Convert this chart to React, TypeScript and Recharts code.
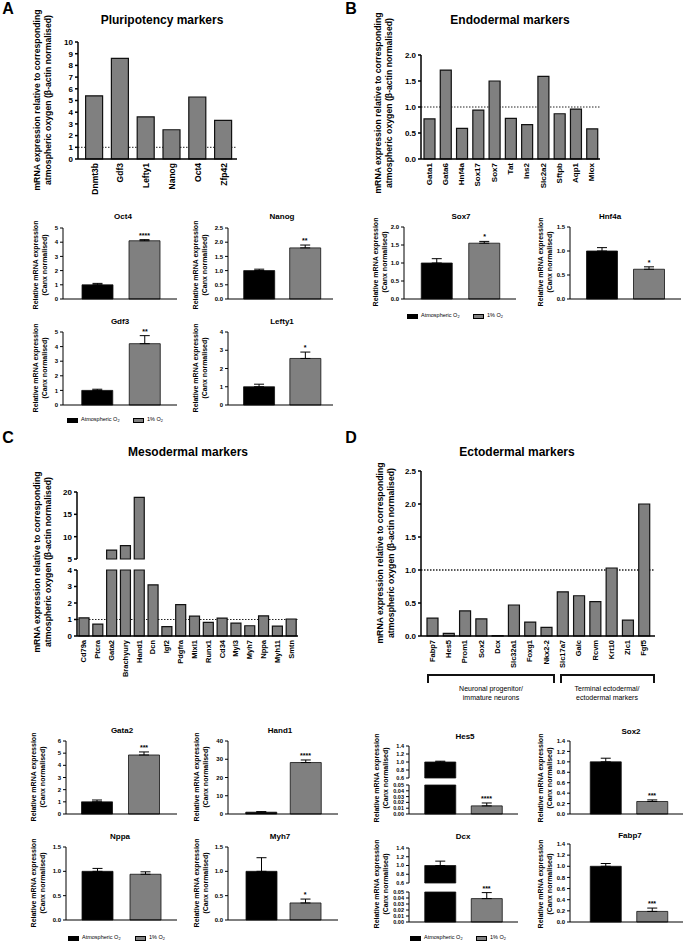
import React from 'react';
import { ComposedChart, Bar, Line, XAxis, YAxis, ErrorBar, ReferenceLine, LabelList, Cell } from 'recharts';

const FONT = '"Liberation Sans", Arial, Helvetica, sans-serif';
const GREY = '#808080';

// fold change vs atmospheric oxygen (beta-actin normalised)
const pluriGenes = ['Dnmt3b', 'Gdf3', 'Lefty1', 'Nanog', 'Oct4', 'Zfp42'];
const pluriValues = [5.4, 8.6, 3.6, 2.5, 5.3, 3.3];

const endoGenes = ['Gata1', 'Gata6', 'Hnf4a', 'Sox17', 'Sox7', 'Tat', 'Ins2', 'Slc2a2', 'Sftpb', 'Aqp1', 'Mlox'];
const endoValues = [0.77, 1.71, 0.59, 0.94, 1.5, 0.78, 0.66, 1.59, 0.87, 0.96, 0.58];

const mesoGenes = ['Cd79a', 'Ptcra', 'Gata2', 'Brachyury', 'Hand1', 'Dcn', 'Igf2', 'Pdgfra', 'Mixl1', 'Runx1', 'Cd34', 'Myl3', 'Myh7', 'Nppa', 'Myh11', 'Smtn'];
const mesoValues = [1.1, 0.72, 7.0, 8.0, 18.8, 3.1, 0.57, 1.9, 1.2, 0.82, 1.08, 0.78, 0.62, 1.22, 0.6, 1.03];

const ectoGenes = ['Fabp7', 'Hes5', 'Prom1', 'Sox2', 'Dcx', 'Slc32a1', 'Foxg1', 'Nkx2-2', 'Slc17a7', 'Galc', 'Rcvm', 'Krt10', 'Zic1', 'Fgf5'];
const ectoValues = [0.27, 0.04, 0.38, 0.26, 0.005, 0.47, 0.21, 0.13, 0.67, 0.61, 0.52, 1.03, 0.24, 2.0];

// qPCR validation (Canx normalised): [atmospheric, 1% O2]
const conditions = ['Atmospheric O2', '1% O2'];
const oct4 = { mean: [1.0, 4.1], sem: [0.1, 0.08], sig: '****' };
const nanog = { mean: [1.0, 1.8], sem: [0.05, 0.1], sig: '**' };
const gdf3 = { mean: [1.0, 4.2], sem: [0.08, 0.55], sig: '**' };
const lefty1 = { mean: [1.0, 2.55], sem: [0.14, 0.35], sig: '*' };
const sox7 = { mean: [1.0, 1.55], sem: [0.12, 0.05], sig: '*' };
const hnf4a = { mean: [1.0, 0.62], sem: [0.07, 0.05], sig: '*' };
const gata2 = { mean: [1.0, 4.85], sem: [0.15, 0.25], sig: '***' };
const hand1 = { mean: [1.0, 28.2], sem: [0.3, 1.4], sig: '****' };
const nppa = { mean: [1.0, 0.94], sem: [0.06, 0.05], sig: '' };
const myh7 = { mean: [1.0, 0.35], sem: [0.28, 0.08], sig: '*' };
const hes5 = { mean: [1.0, 0.014], sem: [0.02, 0.005], sig: '****' };
const sox2 = { mean: [1.0, 0.24], sem: [0.07, 0.03], sig: '***' };
const dcx = { mean: [1.0, 0.039], sem: [0.1, 0.01], sig: '***' };
const fabp7 = { mean: [1.0, 0.19], sem: [0.05, 0.06], sig: '***' };

type Pair = { mean: number[]; sem: number[]; sig: string };

const foldRows = (genes: string[], values: number[], lo = -Infinity, hi = Infinity) =>
  genes.map((name, i) => ({ name, v: values[i] > lo ? Math.min(values[i], hi) : null, fill: GREY }));

const pairRows = (g: Pair, lo = -Infinity, hi = Infinity) =>
  conditions.map((name, i) => {
    const m = g.mean[i];
    const whole = m >= lo && m <= hi;
    return {
      name,
      v: m >= lo ? Math.min(m, hi) : null,
      err: whole ? [0, g.sem[i]] : null,
      top: whole ? m + g.sem[i] : null,
      sig: whole && i === 1 && g.sig ? g.sig : null,
      fill: i === 0 ? '#000' : GREY,
    };
  });

const steps = (a: number, b: number, s: number) => {
  const out: number[] = [];
  for (let v = a; v <= b + s / 1000; v += s) out.push(Math.round(v * 1000) / 1000);
  return out;
};

const YW = 36, TM = 16, RM = 4, BM = 6;

function RotTick(props: any) {
  const { x, y, payload, fs } = props;
  return (
    <text transform={`translate(${x},${y}) rotate(-90)`} textAnchor="end" dominantBaseline="central"
      fontSize={fs} fontWeight={700} fontFamily={FONT} fill="#000">
      {payload.value}
    </text>
  );
}

function Plot(p: any) {
  const xh = p.hideX ? 0 : p.xHeight ?? 1;
  const width = p.right - p.axisX + YW + RM;
  const height = p.bottom - p.top + TM + xh + BM;
  const axisStyle = { stroke: '#000', strokeWidth: p.lw };

  // drawn twice: the dotted reference line sits in a layer under the bars
  const chart = (main: boolean) => (
    <ComposedChart width={width} height={height} data={p.data} margin={{ top: TM, right: RM, bottom: BM, left: 0 }}>
      <XAxis dataKey="name" hide={p.hideX} height={xh} interval={0} padding={p.padding}
        axisLine={main ? axisStyle : false} tickLine={false} tickSize={2}
        tick={main && p.rotate ? <RotTick fs={p.rotate} /> : false} />
      <YAxis width={YW} type="number" domain={p.domain} ticks={p.ticks} interval={0}
        tickFormatter={(v: number) => Number(v).toFixed(p.digits)}
        axisLine={main ? axisStyle : false} tickLine={main ? axisStyle : false} tickSize={3} tickMargin={2}
        tick={main ? { fontSize: p.yFont, fontWeight: 700, fill: '#000', fontFamily: FONT } : false} />
      {!main && p.dotted !== undefined && (
        <ReferenceLine y={p.dotted} stroke="#222" strokeWidth={p.dotW ?? 1} strokeDasharray="1.5 1.5" />
      )}
      <Bar dataKey="v" barSize={p.barSize} stroke={main ? '#111' : 'none'} strokeWidth={p.bw}
        fillOpacity={main ? 1 : 0} isAnimationActive={false}>
        {p.data.map((d: any, i: number) => <Cell key={i} fill={d.fill} />)}
        {main && p.errors && (
          <ErrorBar dataKey="err" direction="y" width={5} stroke="#000" strokeWidth={1} isAnimationActive={false} />
        )}
      </Bar>
      {main && p.stars && (
        <Line dataKey="top" stroke="none" dot={false} activeDot={false} isAnimationActive={false}>
          <LabelList dataKey="sig" position="top" offset={2}
            style={{ fontSize: 7, fontWeight: 700, fill: '#000', fontFamily: FONT }} />
        </Line>
      )}
    </ComposedChart>
  );

  return (
    <>
      {p.dotted !== undefined && (
        <div style={{ position: 'absolute', left: p.axisX - YW, top: p.top - TM }}>{chart(false)}</div>
      )}
      <div style={{ position: 'absolute', left: p.axisX - YW, top: p.top - TM }}>{chart(true)}</div>
    </>
  );
}

const pad = (axisX: number, right: number, c0: number, c1: number) => {
  const band = c1 - c0;
  return { left: Math.max(0, c0 - band / 2 - axisX), right: Math.max(0, right - c1 - band / 2) };
};

function Txt({ x, y, size, bold = true, children }: any) {
  return (
    <div style={{ position: 'absolute', left: x, top: y, transform: 'translate(-50%,-50%)', fontSize: size,
      fontWeight: bold ? 700 : 400, whiteSpace: 'nowrap', lineHeight: 1 }}>{children}</div>
  );
}

function VTxt({ x, y, size, children }: any) {
  return (
    <div style={{ position: 'absolute', left: x, top: y, transform: 'translate(-50%,-50%) rotate(-90deg)',
      fontSize: size, fontWeight: 700, whiteSpace: 'nowrap', lineHeight: 1 }}>{children}</div>
  );
}

const BigYLabel = ({ x, cy }: any) => (
  <>
    <VTxt x={x} y={cy} size={8.7}>mRNA expression relative to corresponding</VTxt>
    <VTxt x={x + 11} y={cy} size={8.7}>atmospheric oxygen (β-actin normalised)</VTxt>
  </>
);

const SmallYLabel = ({ x, cy }: any) => (
  <>
    <VTxt x={x} y={cy} size={7}>Relative mRNA expression</VTxt>
    <VTxt x={x + 9} y={cy} size={7}>(Canx normalised)</VTxt>
  </>
);

const small = { lw: 1, bw: 0.8, yFont: 6, barSize: 31, errors: true, stars: true };

function PairChart({ g, axisX, right, top, bottom, domain, step, digits, c0, c1, title, tx, ty, lx, ly }: any) {
  return (
    <>
      <Txt x={tx} y={ty} size={8}>{title}</Txt>
      <SmallYLabel x={lx} cy={ly} />
      <Plot {...small} data={pairRows(g)} axisX={axisX} right={right} top={top} bottom={bottom}
        domain={domain} ticks={steps(domain[0], domain[1], step)} digits={digits} padding={pad(axisX, right, c0, c1)} />
    </>
  );
}

function BrokenPair({ g, axisX, right, upTop, upBottom, lowTop, bottom, c0, c1, title, tx, ty, lx, ly }: any) {
  const padding = pad(axisX, right, c0, c1);
  return (
    <>
      <Txt x={tx} y={ty} size={8}>{title}</Txt>
      <SmallYLabel x={lx} cy={ly} />
      <Plot {...small} yFont={5.5} data={pairRows(g, 0.6)} axisX={axisX} right={right} top={upTop} bottom={upBottom}
        hideX domain={[0.6, 1.4]} ticks={steps(0.6, 1.4, 0.2)} digits={1} padding={padding} />
      <Plot {...small} yFont={5.5} data={pairRows(g, -Infinity, 0.05)} axisX={axisX} right={right} top={lowTop} bottom={bottom}
        domain={[0, 0.05]} ticks={steps(0, 0.05, 0.01)} digits={2} padding={padding} />
    </>
  );
}

function O2Legend({ x, y, gx }: any) {
  const sq = (left: number, fill: string) => (
    <div style={{ position: 'absolute', left, top: y - 2.5, width: 11, height: 5, background: fill,
      border: '0.8px solid #000', boxSizing: 'border-box' }} />
  );
  const sub = <span style={{ fontSize: '0.7em', position: 'relative', top: '0.3em' }}>2</span>;
  const lbl = (left: number, text: string) => (
    <div style={{ position: 'absolute', left, top: y, transform: 'translateY(-50%)', fontSize: 5.5,
      lineHeight: 1, whiteSpace: 'nowrap' }}>{text}O{sub}</div>
  );
  return (
    <>
      {sq(x, '#000')}
      {lbl(x + 14, 'Atmospheric ')}
      {sq(gx, GREY)}
      {lbl(gx + 14, '1% ')}
    </>
  );
}

const Bracket = ({ x, w, y }: any) => (
  <div style={{ position: 'absolute', left: x, top: y, width: w, height: 9, borderTop: '2px solid #111',
    borderLeft: '2px solid #111', borderRight: '2px solid #111', boxSizing: 'border-box' }} />
);

const big = { lw: 1.5, bw: 1.2, yFont: 8 };

export default function App() {
  return (
    <div style={{ position: 'absolute', left: 0, top: 0, width: 686, height: 944, background: '#fff',
      fontFamily: FONT, color: '#000', overflow: 'hidden' }}>
      {/* A */}
      <Txt x={8} y={9} size={16}>A</Txt>
      <Txt x={162} y={20} size={12}>Pluripotency markers</Txt>
      <BigYLabel x={37} cy={100} />
      <Plot {...big} data={foldRows(pluriGenes, pluriValues)} axisX={78} top={42} bottom={159} right={237}
        domain={[0, 10]} ticks={steps(0, 10, 1)} digits={0} padding={{ left: 3.6, right: 0.6 }}
        barSize={17} xHeight={40} rotate={8.5} dotted={1} />

      <PairChart g={oct4} title="Oct4" tx={123} ty={217} lx={35} ly={265} axisX={63} right={177} top={228} bottom={299}
        domain={[0, 5]} step={1} digits={0} c0={97.5} c1={144.5} />
      <PairChart g={nanog} title="Nanog" tx={282} ty={217} lx={195} ly={265} axisX={228} right={333} top={228} bottom={299}
        domain={[0, 2.5]} step={0.5} digits={1} c0={258.7} c1={304.7} />
      <PairChart g={gdf3} title="Gdf3" tx={120} ty={322} lx={35} ly={368} axisX={63} right={177} top={332} bottom={405}
        domain={[0, 5]} step={1} digits={0} c0={97.5} c1={145} />
      <PairChart g={lefty1} title="Lefty1" tx={282} ty={322} lx={195} ly={368} axisX={228} right={333} top={332} bottom={405}
        domain={[0, 4]} step={1} digits={0} c0={258.7} c1={305} />
      <O2Legend x={67} y={420} gx={133} />

      {/* B */}
      <Txt x={351} y={9} size={16}>B</Txt>
      <Txt x={510} y={20} size={12}>Endodermal markers</Txt>
      <BigYLabel x={378} cy={103} />
      <Plot {...big} data={foldRows(endoGenes, endoValues)} axisX={421} top={55} bottom={159} right={600}
        domain={[0, 2]} ticks={steps(0, 2, 0.5)} digits={1} padding={{ left: 0, right: 0 }}
        barSize={11} xHeight={40} rotate={8} dotted={1} />

      <PairChart g={sox7} title="Sox7" tx={461} ty={217} lx={375} ly={262} axisX={404} right={516} top={227} bottom={299}
        domain={[0, 2]} step={0.5} digits={1} c0={437} c1={484.5} />
      <PairChart g={hnf4a} title="Hnf4a" tx={610} ty={217} lx={540} ly={262} axisX={570} right={681} top={227} bottom={299}
        domain={[0, 1.5]} step={0.5} digits={1} c0={602} c1={649} />
      <O2Legend x={407} y={316} gx={473} />

      {/* C */}
      <Txt x={8} y={438} size={16}>C</Txt>
      <Txt x={188} y={452} size={12}>Mesodermal markers</Txt>
      <BigYLabel x={37} cy={562} />
      <Plot {...big} data={foldRows(mesoGenes, mesoValues, 5)} axisX={77} top={492} bottom={559} right={298}
        hideX domain={[5, 20]} ticks={steps(5, 20, 5)} digits={0} padding={{ left: 0, right: 0 }} barSize={10} />
      <Plot {...big} data={foldRows(mesoGenes, mesoValues, -Infinity, 4)} axisX={77} top={570} bottom={636} right={298}
        domain={[0, 4]} ticks={steps(0, 4, 1)} digits={0} padding={{ left: 0, right: 0 }}
        barSize={10} xHeight={50} rotate={7.5} dotted={1} />

      <PairChart g={gata2} title="Gata2" tx={122} ty={731} lx={33} ly={777} axisX={66} right={177} top={741} bottom={814}
        domain={[0, 6]} step={1} digits={0} c0={97} c1={144} />
      <PairChart g={hand1} title="Hand1" tx={280} ty={731} lx={196} ly={777} axisX={228} right={338} top={741} bottom={814}
        domain={[0, 40]} step={10} digits={0} c0={261} c1={305.5} />
      <PairChart g={nppa} title="Nppa" tx={120} ty={837} lx={33} ly={883} axisX={66} right={177} top={847} bottom={920}
        domain={[0, 1.5]} step={0.5} digits={1} c0={97} c1={145} />
      <PairChart g={myh7} title="Myh7" tx={280} ty={837} lx={196} ly={883} axisX={228} right={338} top={847} bottom={920}
        domain={[0, 1.5]} step={0.5} digits={1} c0={261} c1={305} />
      <O2Legend x={68} y={938} gx={135} />

      {/* D */}
      <Txt x={351} y={438} size={16}>D</Txt>
      <Txt x={517} y={452} size={12}>Ectodermal markers</Txt>
      <BigYLabel x={380} cy={553} />
      <Plot {...big} data={foldRows(ectoGenes, ectoValues)} axisX={421} top={471} bottom={636} right={655}
        domain={[0, 2.5]} ticks={steps(0, 2.5, 0.5)} digits={1} padding={{ left: 3, right: 3 }}
        barSize={11} xHeight={36} rotate={7.5} dotted={1} dotW={1.6} />
      <Bracket x={427} w={128} y={674} />
      <Bracket x={560} w={95} y={674} />
      <Txt x={491} y={688} size={7} bold={false}>Neuronal progenitor/</Txt>
      <Txt x={491} y={697} size={7} bold={false}>immature neurons</Txt>
      <Txt x={607} y={688} size={7} bold={false}>Terminal ectodermal/</Txt>
      <Txt x={607} y={697} size={7} bold={false}>ectodermal markers</Txt>

      <BrokenPair g={hes5} title="Hes5" tx={465} ty={737} lx={376} ly={778} axisX={409} right={518}
        upTop={746} upBottom={778} lowTop={785} bottom={814} c0={440} c1={486.5} />
      <PairChart g={sox2} title="Sox2" tx={631} ty={732} lx={540} ly={778} axisX={570} right={683} top={741} bottom={814}
        domain={[0, 1.4]} step={0.2} digits={1} c0={605.5} c1={652} />
      <BrokenPair g={dcx} title="Dcx" tx={463} ty={837} lx={376} ly={884} axisX={409} right={518}
        upTop={848} upBottom={883} lowTop={892} bottom={922} c0={440} c1={486.5} />
      <PairChart g={fabp7} title="Fabp7" tx={630} ty={836} lx={540} ly={884} axisX={570} right={683} top={844} bottom={922}
        domain={[0, 1.4]} step={0.2} digits={1} c0={605.5} c1={652} />
      <O2Legend x={410} y={938} gx={476} />
    </div>
  );
}
